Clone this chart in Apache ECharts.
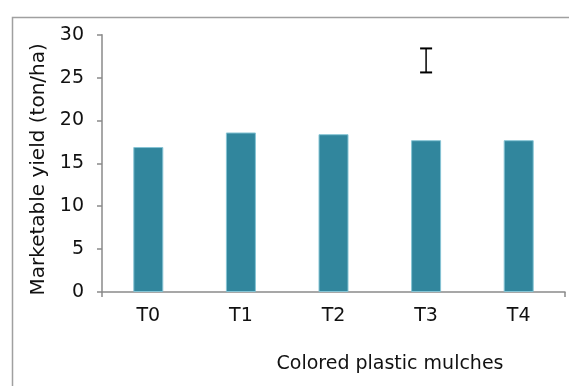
<!DOCTYPE html>
<html>
<head>
<meta charset="utf-8">
<style>
  html, body { margin: 0; padding: 0; background: #fff; }
  #chart { width: 569px; height: 386px; }
</style>
<script src="https://cdn.jsdelivr.net/npm/echarts@6/dist/echarts.min.js"></script>
</head>
<body>
<div id="chart"></div>
<script>
// Marketable yield by mulch treatment
const categories = ['T0', 'T1', 'T2', 'T3', 'T4'];
const yieldValues = [16.9, 18.6, 18.4, 17.7, 17.7];
// Single LSD-style error bar shown above T3
const errorBarCategory = 'T3';
const errorBarLow = 25.6;
const errorBarHigh = 28.4;
const yTicks = { min: 0, max: 30, interval: 5 };

const FONT = 'DejaVu Sans';
const AXIS_COLOR = '#8a8a8a';

const chart = echarts.init(document.getElementById('chart'), null, { renderer: 'canvas' });

chart.setOption({
  animation: false,
  backgroundColor: '#fff',
  textStyle: { fontFamily: FONT },
  graphic: [{
    type: 'rect',
    left: 10, top: 15,
    shape: { width: 620, height: 420 },
    style: { fill: 'none', stroke: '#a0a0a0', lineWidth: 1.5 },
    silent: true, z: -10
  }],
  grid: { left: 102, right: 4, top: 34.7, bottom: 94, containLabel: false },
  xAxis: [{
    type: 'category',
    data: categories,
    boundaryGap: true,
    axisLine: { lineStyle: { color: AXIS_COLOR, width: 1.5 } },
    axisTick: { alignWithLabel: true, length: 5, lineStyle: { color: AXIS_COLOR, width: 1.5 } },
    axisLabel: { color: '#111', fontSize: 19, fontFamily: FONT, margin: 15 },
    name: 'Colored plastic mulches',
    nameLocation: 'middle',
    nameGap: 63,
    nameTextStyle: { color: '#111', fontSize: 19, fontFamily: FONT, padding: [0, 0, 0, 113] }
  }, {
    // boundary ticks at the plot ends
    type: 'value',
    min: 0, max: 5, interval: 5,
    position: 'bottom',
    axisLine: { show: false },
    axisTick: { show: true, length: 5, lineStyle: { color: AXIS_COLOR, width: 1.5 } },
    axisLabel: { show: false },
    splitLine: { show: false }
  }],
  yAxis: {
    type: 'value',
    min: yTicks.min, max: yTicks.max, interval: yTicks.interval,
    axisLine: { show: true, lineStyle: { color: AXIS_COLOR, width: 1.5 } },
    axisTick: { show: true, length: 5, lineStyle: { color: AXIS_COLOR, width: 1.5 } },
    splitLine: { show: false },
    axisLabel: { color: '#111', fontSize: 19, fontFamily: FONT, margin: 18 },
    name: 'Marketable yield (ton/ha)',
    nameLocation: 'middle',
    nameGap: 36,
    nameTextStyle: { color: '#111', fontSize: 20, fontFamily: FONT, padding: [0, 12, 0, 0] }
  },
  series: [{
    type: 'bar',
    data: yieldValues,
    barWidth: 30,
    itemStyle: { color: '#31869d', borderColor: '#86c4d4', borderWidth: 1 }
  }, {
    type: 'custom',
    data: [[errorBarCategory, errorBarLow, errorBarHigh]],
    encode: { x: 0, y: [1, 2] },
    renderItem: function (params, api) {
      const cat = api.value(0);
      const lo = api.coord([cat, api.value(1)]);
      const hi = api.coord([cat, api.value(2)]);
      const half = 6;
      const style = { stroke: '#000', lineWidth: 2 };
      return {
        type: 'group',
        children: [
          { type: 'line', shape: { x1: lo[0], y1: lo[1], x2: hi[0], y2: hi[1] }, style: { stroke: '#111', lineWidth: 1.6 } },
          { type: 'line', shape: { x1: hi[0] - half, y1: hi[1], x2: hi[0] + half, y2: hi[1] }, style: style },
          { type: 'line', shape: { x1: lo[0] - half, y1: lo[1], x2: lo[0] + half, y2: lo[1] }, style: style }
        ]
      };
    },
    z: 5
  }]
});
</script>
</body>
</html>
